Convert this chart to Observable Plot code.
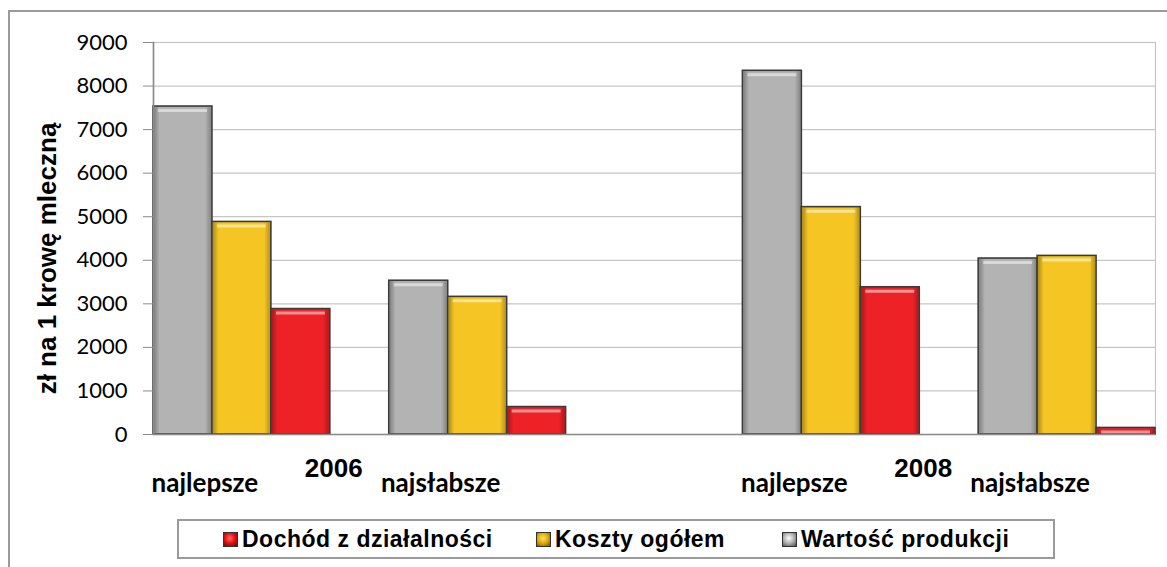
<!DOCTYPE html>
<html><head><meta charset="utf-8">
<script src="https://cdn.jsdelivr.net/npm/d3@7"></script>
<script src="https://cdn.jsdelivr.net/npm/@observablehq/plot@0.6"></script>
<style>
body{margin:0;background:#fff}
#wrap{position:relative;width:1167px;height:567px;overflow:hidden;background:#fff}
#frame{position:absolute;left:8px;top:10px;width:1170px;height:600px;border:2px solid #9a9a9a;box-sizing:border-box}
#chart{position:absolute;left:0;top:0}
#legend{position:absolute;left:177px;top:519px;width:878px;height:40px;border:2px solid #9a9a9a;box-sizing:border-box;font-family:"Liberation Sans",Arial,sans-serif;font-weight:bold;font-size:23px;letter-spacing:0.5px;color:#000;background:#fff}
.item{position:absolute;top:0;height:36px;display:flex;align-items:center;white-space:nowrap}
.sw{width:13px;height:13px;border:1px solid #333;margin-right:4px}
</style></head>
<body>
<div id="wrap">
  <div id="frame"></div>
  <div id="chart"></div>
  <div id="legend"></div>
</div>
<script>
const years = ["2006", "2008"];
const groups = ["najlepsze", "najsłabsze"];
const series = ["Wartość produkcji", "Koszty ogółem", "Dochód z działalności"];
// values per [2006 najlepsze, 2006 najsłabsze, 2008 najlepsze, 2008 najsłabsze]
const wartoscProdukcji = [7530, 3530, 8350, 4040];
const kosztyOgolem = [4880, 3160, 5220, 4100];
const dochodZDzialalnosci = [2880, 630, 3380, 150];
const yTicks = [0, 1000, 2000, 3000, 4000, 5000, 6000, 7000, 8000, 9000];
const seriesColors = ["#b3b3b3", "#f5c623", "#ec2227"];
const legendOrder = ["Dochód z działalności", "Koszty ogółem", "Wartość produkcji"];
const yLabel = "zł na 1 krowę mleczną";

const valuesBySeries = [wartoscProdukcji, kosztyOgolem, dochodZDzialalnosci];
const slotKey = (yr, g, s) => `${yr}|${g}|${s}`;
const domain = [];
const rows = [];
const groupRows = [];
years.forEach((yr, yi) => {
  if (yi > 0) domain.push("gap-a", "gap-b", "gap-c");
  groups.forEach((g, gi) => {
    if (gi > 0) domain.push(`gap-${yr}`);
    groupRows.push({year: yr, group: g});
    series.forEach((s, si) => {
      domain.push(slotKey(yr, g, s));
      rows.push({key: slotKey(yr, g, s), series: s, value: valuesBySeries[si][yi * 2 + gi]});
    });
  });
});

const chart = Plot.plot({
  width: 1167,
  height: 505,
  marginLeft: 153,
  marginRight: 12,
  marginTop: 42,
  marginBottom: 71,
  style: {fontFamily: "Lato", background: "transparent"},
  x: {type: "band", domain, padding: 0, round: false, axis: null},
  y: {domain: [0, 9000], axis: null},
  color: {domain: series, range: seriesColors},
  marks: [
    Plot.gridY(yTicks.slice(1), {stroke: "#c6c6c6", strokeOpacity: 1, strokeWidth: 1.2}),
    Plot.frame({stroke: "#c6c6c6", strokeWidth: 1.2}),
    Plot.barY(rows, {x: "key", y: "value", fill: "series", stroke: "#3a3a3a", strokeWidth: 1.6}),
    Plot.barY(rows, {x: "key", y: "value", fill: "url(#shade)", inset: 1}),
    Plot.tickY(rows, {x: "key", y: "value", dy: 4, stroke: "white", strokeOpacity: 0.5, strokeWidth: 3, inset: 5}),
    Plot.ruleY([0], {stroke: "#8a8a8a", strokeWidth: 1.6}),
    Plot.axisY({ticks: yTicks, tickSize: 10, tickPadding: 16, fontSize: 22, stroke: "#8a8a8a", fill: "#000", tickFormat: d => String(d), label: null}),
    Plot.frame({anchor: "left", stroke: "#8a8a8a", strokeWidth: 1.6}),
    Plot.text(groupRows, {x: d => slotKey(d.year, d.group, series[1]), text: "group", frameAnchor: "bottom", lineAnchor: "middle", dy: 49, dx: -37, fontSize: 26, fontWeight: "bold", fontFamily: "Lato", fill: "#000"}),
    Plot.text(years, {x: d => `gap-${d}`, text: d => d, frameAnchor: "bottom", lineAnchor: "middle", dy: 34, dx: -26, fontSize: 26, fontWeight: "bold", fontFamily: "Liberation Sans", fill: "#000"}),
    Plot.text([yLabel], {text: d => d, frameAnchor: "left", textAnchor: "middle", lineAnchor: "middle", rotate: -90, dx: -106, dy: 20, fontSize: 26, fontWeight: "bold", fontFamily: "Liberation Sans", fill: "#000"})
  ]
});

const defs = d3.select(chart).insert("defs", ":first-child");
const lg = defs.append("linearGradient").attr("id", "shade").attr("x1", 0).attr("x2", 1).attr("y1", 0).attr("y2", 0);
[[0, 0.28], [0.1, 0], [0.9, 0], [1, 0.25]].forEach(([o, a]) => lg.append("stop").attr("offset", o).attr("stop-color", "#000").attr("stop-opacity", a));

document.getElementById("chart").appendChild(chart);

const swatchGrad = {
  "Dochód z działalności": "radial-gradient(circle at 45% 40%, #ff6a6a 0%, #e01010 50%, #6a0000 100%)",
  "Koszty ogółem": "radial-gradient(circle at 45% 40%, #ffe36a 0%, #e0a800 50%, #6a4a00 100%)",
  "Wartość produkcji": "radial-gradient(circle at 45% 40%, #ffffff 0%, #b0b0b0 50%, #4a4a4a 100%)"
};
const itemLeft = {"Dochód z działalności": 44, "Koszty ogółem": 357, "Wartość produkcji": 603};
const legend = d3.select("#legend");
legendOrder.forEach(s => {
  const it = legend.append("div").attr("class", "item").style("left", itemLeft[s] + "px");
  it.append("div").attr("class", "sw").style("background", swatchGrad[s]);
  it.append("span").text(s);
});
</script>
</body></html>
